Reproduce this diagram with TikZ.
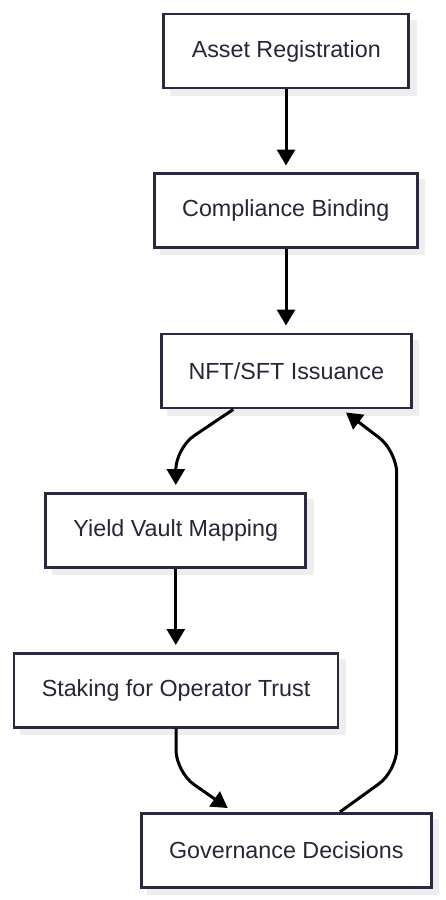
\documentclass[tikz,border=0pt]{standalone}
\usepackage{fontspec}
\setmainfont{Liberation Sans}
\usetikzlibrary{arrows.meta}
\definecolor{boxline}{RGB}{42,42,62}
\definecolor{boxtext}{RGB}{38,38,58}
\definecolor{shadowgray}{RGB}{238,238,238}
\tikzset{
  flowbox/.style={draw=boxline, line width=2.8pt, fill=white, rectangle,
    text=boxtext, font=\fontsize{23.3pt}{27pt}\selectfont, inner sep=0pt,
    minimum height=74pt},
  shadowbox/.style={fill=shadowgray, rectangle, inner sep=0pt, minimum height=76pt},
  flowarrow/.style={line width=3pt, black, rounded corners=22pt,
    -{Triangle[length=16pt,width=18pt]}}
}
\begin{document}
\begin{tikzpicture}[x=1pt,y=-1pt]
\useasboundingbox (0,0) rectangle (446,900);
% shadows
\node[shadowbox, minimum width=247pt] at (293.3,58) {};
\node[shadowbox, minimum width=265pt] at (292.8,217.3) {};
\node[shadowbox, minimum width=252pt] at (293.3,378) {};
\node[shadowbox, minimum width=262pt] at (182.8,537.3) {};
\node[shadowbox, minimum width=326pt] at (183,697.3) {};
\node[shadowbox, minimum width=292pt] at (293.3,857.3) {};
% boxes
\node[flowbox, minimum width=245pt] (n1) at (286.3,51) {Asset Registration};
\node[flowbox, minimum width=263pt] (n2) at (285.8,210.3) {Compliance Binding};
\node[flowbox, minimum width=250pt] (n3) at (286.3,371) {NFT/SFT Issuance};
\node[flowbox, minimum width=260pt] (n4) at (175.8,530.3) {Yield Vault Mapping};
\node[flowbox, minimum width=324pt] (n5) at (176,690.3) {Staking for Operator Trust};
\node[flowbox, minimum width=290pt] (n6) at (286.3,850.3) {Governance Decisions};
% connectors
\coordinate (t2) at (286,165.5);
\coordinate (t3) at (286,325.5);
\coordinate (t4) at (175.8,485);
\coordinate (t5) at (175.8,645);
\coordinate (t6) at (227.7,808);
\coordinate (t3b) at (346,412.5);
\draw[flowarrow] (n1.south -| t2) -- (t2);
\draw[flowarrow] (n2.south -| t3) -- (t3);
\draw[flowarrow] ([xshift=-53pt]n3.south) -- (175.8,448) -- (t4);
\draw[flowarrow] (n4.south -| t5) -- (t5);
\draw[flowarrow] (n5.south) -- (176,772) -- (t6);
\draw[flowarrow] ([xshift=53.7pt]n6.north) -- (396.7,771) -- (396.7,451) -- (t3b);
\end{tikzpicture}
\end{document}
